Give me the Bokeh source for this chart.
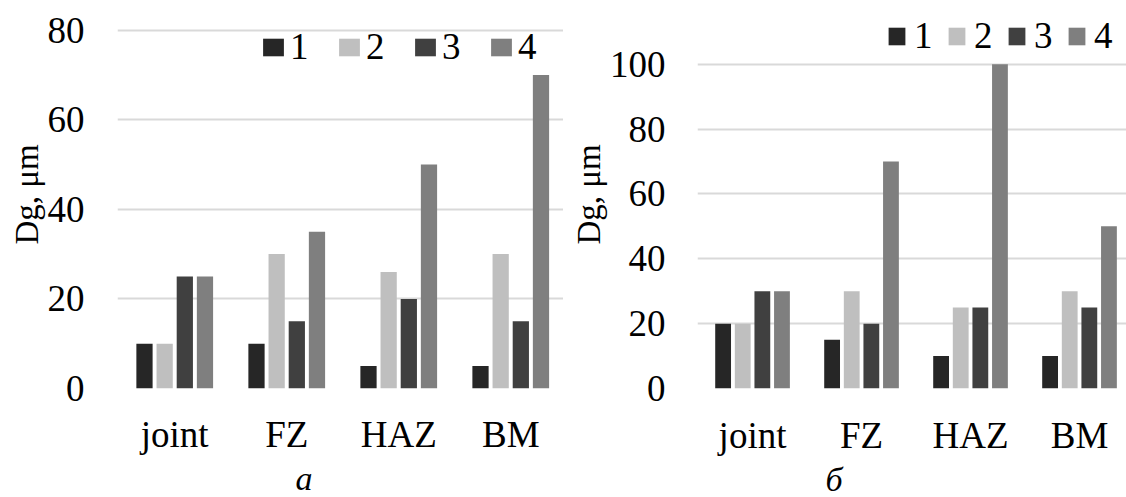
from bokeh.plotting import figure
from bokeh.layouts import row
from bokeh.models import (Range1d, FixedTicker, Legend, LegendItem,
                          ColumnDataSource, Title)
from bokeh.transform import dodge
from bokeh.embed import file_html
from bokeh.resources import INLINE

# ---------------- data ----------------
categories = ["joint", "FZ", "HAZ", "BM"]
series_names = ["1", "2", "3", "4"]
colors = ["#262626", "#bfbfbf", "#404040", "#7f7f7f"]

# panel a
a_s1 = [10, 10, 5, 5]
a_s2 = [10, 30, 26, 30]
a_s3 = [25, 15, 20, 15]
a_s4 = [25, 35, 50, 70]
a_yticks = [0, 20, 40, 60, 80]

# panel б
b_s1 = [20, 15, 10, 10]
b_s2 = [20, 30, 25, 30]
b_s3 = [30, 20, 25, 25]
b_s4 = [30, 70, 100, 50]
b_yticks = [0, 20, 40, 60, 80, 100]

FONT = "Liberation Serif"
TICK_FS = "37px"
H = 497


def make_panel(series, yticks, y_end, x_start, x_end, width, border_left,
               border_bottom, caption, caption_offset, xlab_standoff,
               ylab_standoff, leg_loc, leg_gw, leg_gh, leg_standoff,
               leg_spacing):
    p = figure(width=width, height=H, output_backend="svg",
               toolbar_location=None,
               x_range=Range1d(x_start, x_end), y_range=Range1d(0, y_end),
               min_border_left=border_left, min_border_right=0,
               min_border_top=0, min_border_bottom=border_bottom)
    p.outline_line_color = None
    p.background_fill_color = "white"
    p.border_fill_color = "white"

    src = ColumnDataSource(dict(xi=list(range(len(categories))),
                                **{f"s{i}": s for i, s in enumerate(series)}))
    offsets = [-0.27, -0.09, 0.09, 0.27]
    items = []
    for i, (name, col) in enumerate(zip(series_names, colors)):
        r = p.vbar(x=dodge("xi", offsets[i], range=p.x_range), top=f"s{i}",
                   width=0.145, source=src, fill_color=col, line_color=None)
        items.append(LegendItem(label=name, renderers=[r]))

    # axes
    p.xaxis.ticker = FixedTicker(ticks=list(range(len(categories))))
    p.xaxis.major_label_overrides = {i: c for i, c in enumerate(categories)}
    p.yaxis.ticker = FixedTicker(ticks=yticks)
    for ax in (p.xaxis[0], p.yaxis[0]):
        ax.axis_line_color = None
        ax.major_tick_line_color = None
        ax.minor_tick_line_color = None
        ax.major_tick_out = 0
        ax.major_tick_in = 0
        ax.major_label_text_font = FONT
        ax.major_label_text_font_size = TICK_FS
        ax.major_label_text_color = "black"
    p.xaxis.major_label_standoff = xlab_standoff
    p.xaxis.major_label_text_line_height = 1.0
    p.yaxis.major_label_standoff = ylab_standoff
    p.yaxis.axis_label = "Dg, μm"
    p.yaxis.axis_label_text_font = FONT
    p.yaxis.axis_label_text_font_size = "33px"
    p.yaxis.axis_label_text_font_style = "normal"
    p.yaxis.axis_label_text_color = "black"
    p.yaxis.axis_label_standoff = 0

    p.xgrid.grid_line_color = None
    p.ygrid.grid_line_color = "#d9d9d9"
    p.ygrid.grid_line_width = 2

    legend = Legend(items=items, orientation="horizontal", location=leg_loc,
                    glyph_width=leg_gw, glyph_height=leg_gh,
                    label_standoff=leg_standoff, spacing=leg_spacing,
                    padding=0, margin=0, border_line_color=None,
                    background_fill_alpha=0,
                    label_text_font=FONT, label_text_font_size=TICK_FS,
                    label_text_color="black")
    p.add_layout(legend, "center")

    p.add_layout(Title(text=caption, align="left", offset=caption_offset,
                       standoff=0, text_font=FONT, text_font_size="34px",
                       text_font_style="italic", text_color="black",
                       text_line_height=1.0),
                 "below")
    return p


pa = make_panel([a_s1, a_s2, a_s3, a_s4], a_yticks, 80 * 393 / 363,
                -0.511, 3.471, 563, 117, 104,
                "a", 178, 25, 33,
                (143, 320), 26, 22, 4, 26)

pb = make_panel([b_s1, b_s2, b_s3, b_s4], b_yticks, 100 * 390 / 326,
                -0.505, 3.431, 563, 134, 107,
                "б", 128, 26, 32,
                (189, 331), 21, 22, 7, 12)

layout = row(pa, pb)
open("out.html", "w").write(file_html(layout, INLINE))
